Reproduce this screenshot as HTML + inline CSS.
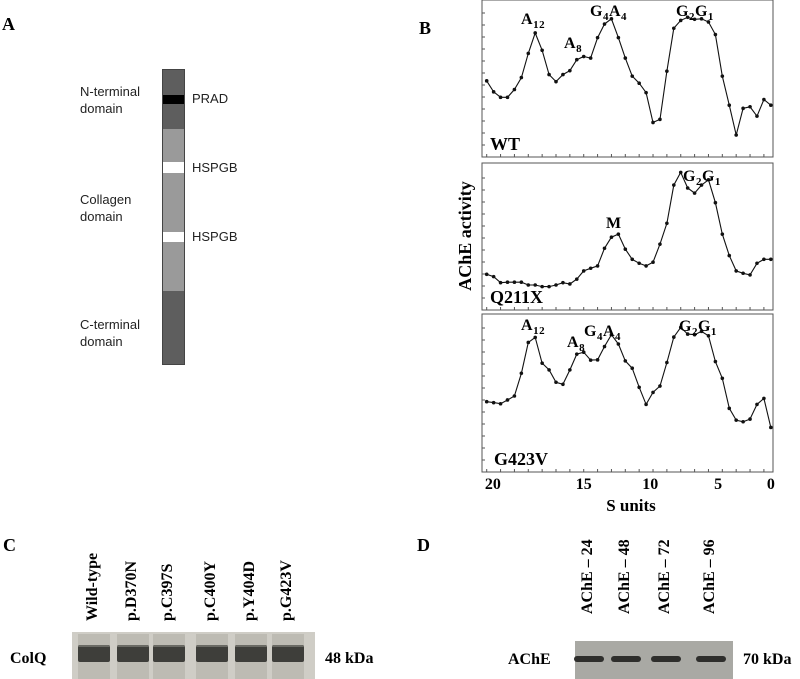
<!DOCTYPE html>
<html><head><meta charset="utf-8"><style>
body{margin:0;background:#fff;width:800px;height:679px;overflow:hidden;position:relative;font-family:"Liberation Serif",serif}
.t{position:absolute;white-space:nowrap}
.lab{font-family:"Liberation Sans",sans-serif;font-size:13px;color:#222;line-height:17px}
.pl{font-weight:bold;font-size:18px}
.rot{position:absolute;transform:rotate(-90deg);transform-origin:left top;font-weight:bold;font-size:16px;white-space:nowrap}
</style></head><body>
<div class="t pl" style="left:2px;top:14px">A</div>
<div class="t pl" style="left:419px;top:18px">B</div>
<div class="t pl" style="left:3px;top:535px">C</div>
<div class="t pl" style="left:417px;top:535px">D</div>

<!-- Panel A -->
<div style="position:absolute;left:162px;top:69px;width:23px;height:296px;background:#5e5e5e;box-sizing:border-box;border:1px solid #444">
 <div style="position:absolute;left:0;top:25px;width:21px;height:9px;background:#000"></div>
 <div style="position:absolute;left:0;top:59px;width:21px;height:162px;background:#9a9a9a"></div>
 <div style="position:absolute;left:0;top:92px;width:21px;height:11px;background:#fff"></div>
 <div style="position:absolute;left:0;top:162px;width:21px;height:10px;background:#fff"></div>
</div>
<div class="t lab" style="left:80px;top:83px">N-terminal<br>domain</div>
<div class="t lab" style="left:80px;top:191px">Collagen<br>domain</div>
<div class="t lab" style="left:80px;top:316px">C-terminal<br>domain</div>
<div class="t lab" style="left:192px;top:90px">PRAD</div>
<div class="t lab" style="left:192px;top:159px">HSPGB</div>
<div class="t lab" style="left:192px;top:228px">HSPGB</div>

<!-- Panel B -->
<svg id="chart" width="800" height="679" style="position:absolute;left:0;top:0"></svg>

<!-- Panel C -->
<div style="position:absolute;left:72px;top:632px;width:243px;height:47px;background:#cfcdc6"></div>
<div class="t" style="left:10px;top:650px;font-weight:bold;font-size:16px">ColQ</div>
<div class="t" style="left:325px;top:650px;font-weight:bold;font-size:16px">48 kDa</div>

<!-- Panel D -->
<div style="position:absolute;left:575px;top:641px;width:158px;height:38px;background:#a9a9a4"></div>
<div class="t" style="left:508px;top:651px;font-weight:bold;font-size:16px">AChE</div>
<div class="t" style="left:743px;top:651px;font-weight:bold;font-size:16px">70 kDa</div>

<script>
const fractions=[1,2,3,4,5,6,7,8,9,10,11,12,13,14,15,16,17,18,19,20,21,22,23,24,25,26,27,28,29,30,31,32,33,34,35,36,37,38,39,40,41,42];
const wtValues=[48.5,41.5,38,38,43,50.6,66,79,68,52.5,48,52.5,55,62,64,63,76,84.7,88,76,63,51.5,47,41,22,24,54.7,82,87,89,87.7,88,86,78,51.5,33,14,31,32,26,36.6,33];
const q211xValues=[24.3,22.7,18.6,18.9,18.9,18.9,17,17,15.9,15.9,17,18.6,17.7,21,26.6,28.4,30,42,49.5,51.6,41.4,34.5,31.8,30,32.5,44.8,59,85,93.6,83,79.5,85,88.6,73,51.6,37,26.6,25,23.9,31.8,34.5,34.5];
const g423vValues=[44.5,43.9,43.2,45.6,48.1,62.5,82,85.2,68.9,64.6,56.8,55.5,64.6,74.6,75.8,70.8,71,79.4,86.9,81,70.3,65.7,53.6,42.8,50.4,54.4,69.3,85.4,91.5,87.3,86.9,89,86.2,69.9,59.3,40.3,32.8,31.8,33.5,42.8,46.6,28.2];
const xTickLabels=['20','15','10','5','0'];
const xTickFractions=[1.9,15.0,24.6,34.4,42];
const panelNames=['WT','Q211X','G423V'];
const laneLabelsC=['Wild-type','p.D370N','p.C397S','p.C400Y','p.Y404D','p.G423V'];
const laneLabelsD=['AChE – 24','AChE – 48','AChE – 72','AChE – 96'];

const NS='http://www.w3.org/2000/svg';
const svg=document.getElementById('chart');
const X0=482,X1=773;
const xs=f=>486.7+(f-1)*6.93;
const panels=[{top:0,bot:157,data:wtValues},{top:163,bot:310,data:q211xValues},{top:314,bot:472,data:g423vValues}];
function mk(tag,attrs,txt){const e=document.createElementNS(NS,tag);for(const k in attrs)e.setAttribute(k,attrs[k]);if(txt!==undefined)e.textContent=txt;svg.appendChild(e);return e;}
panels.forEach((p,i)=>{
  const r=mk('rect',{x:X0,y:p.top,width:X1-X0,height:p.bot-p.top,fill:'none',stroke:'#555','stroke-width':1});
  
  
  for(let y=p.bot-12;y>p.top+4;y-=12){const t=mk('line',{x1:X0,x2:X0+3,y1:y,y2:y,stroke:'#555','stroke-width':1});
    
    }
  for(let f=1;f<=42;f+=2){const t=mk('line',{x1:xs(f),x2:xs(f),y1:p.bot,y2:p.bot-3,stroke:'#555','stroke-width':1});
    
    }
  const ys=v=>p.bot-v/100*(p.bot-p.top);
  const d=p.data.map((v,j)=>(j?'L':'M')+xs(fractions[j]).toFixed(1)+','+ys(v).toFixed(1)).join('');
  const path=mk('path',{d:d,fill:'none',stroke:'#111','stroke-width':1.1});
  
  
  p.data.forEach((v,j)=>{const c=mk('circle',{cx:xs(fractions[j]),cy:ys(v),r:1.8,fill:'#111'});
    
    });
  const lb=mk('text',{x:i==2?494:490,y:p.bot-7,'font-family':'Liberation Serif, serif','font-weight':'bold','font-size':18},panelNames[i]);
  
  
});
xTickLabels.forEach((s,k)=>{const t=mk('text',{x:xs(xTickFractions[k]),y:489,'text-anchor':'middle','font-family':'Liberation Serif, serif','font-weight':'bold','font-size':16},s);
  
  });
const xt=mk('text',{x:631,y:511,'text-anchor':'middle','font-family':'Liberation Serif, serif','font-weight':'bold','font-size':17},'S units');


const yt=mk('text',{x:0,y:0,transform:'translate(471,236) rotate(-90)','text-anchor':'middle','font-family':'Liberation Serif, serif','font-weight':'bold','font-size':18},'AChE activity');


function peak(x,y,parts,name){const t=mk('text',{x:x,y:y,'font-family':'Liberation Serif, serif','font-weight':'bold','font-size':16,'letter-spacing':'0.5'});
  
  
  parts.forEach(([a,b])=>{const s1=document.createElementNS(NS,'tspan');s1.textContent=a;t.appendChild(s1);
    if(b){const s2=document.createElementNS(NS,'tspan');s2.setAttribute('font-size','11');s2.setAttribute('baseline-shift','-4');s2.textContent=b;t.appendChild(s2);}});}
peak(521,24,[['A','12']],'peak-a12-wt');
peak(564,48,[['A','8']],'peak-a8-wt');
peak(590,16,[['G','4'],['A','4']],'peak-g4a4-wt');
peak(676,16,[['G','2'],['G','1']],'peak-g2g1-wt');
peak(606,228,[['M','']],'peak-m-q211x');
peak(683,181,[['G','2'],['G','1']],'peak-g2g1-q211x');
peak(521,330,[['A','12']],'peak-a12-g423v');
peak(567,347,[['A','8']],'peak-a8-g423v');
peak(584,336,[['G','4'],['A','4']],'peak-g4a4-g423v');
peak(679,331,[['G','2'],['G','1']],'peak-g2g1-g423v');

const cx=[94,133,169,212,251,288];
laneLabelsC.forEach((t,i)=>{const d=document.createElement('div');d.className='rot';d.textContent=t;
  
  
  document.body.appendChild(d);d.style.left=(cx[i]-10)+'px';d.style.top='621px';
  const l=document.createElement('div');
  
  
  l.style.cssText='position:absolute;left:'+(cx[i]-16)+'px;top:634px;width:32px;height:45px;background:#bdbbb3';
  document.body.appendChild(l);
  const b=document.createElement('div');
  
  
  b.style.cssText='position:absolute;left:'+(cx[i]-16)+'px;top:645px;width:32px;height:17px;background:#3e3e3a;border-radius:2px;box-shadow:inset 0 7px 0 -5px #6a6a64';
  document.body.appendChild(b);});
const dx=[589,626,666,711];
laneLabelsD.forEach((t,i)=>{const d=document.createElement('div');d.className='rot';d.textContent=t;
  
  
  document.body.appendChild(d);d.style.left=(dx[i]-10)+'px';d.style.top='614px';
  const b=document.createElement('div');
  
  
  b.style.cssText='position:absolute;left:'+(dx[i]-15)+'px;top:656px;width:30px;height:6px;background:#2e2e2c;border-radius:3px';
  document.body.appendChild(b);});
</script>
</body></html>
